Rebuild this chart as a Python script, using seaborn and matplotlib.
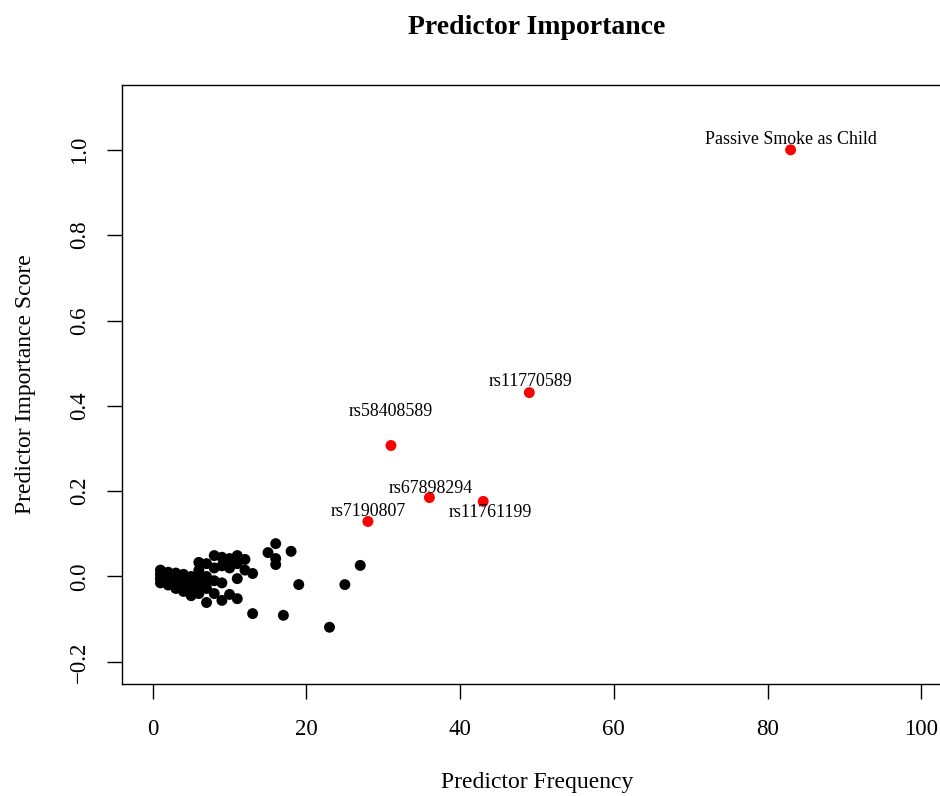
import matplotlib

matplotlib.use("Agg")
import matplotlib.pyplot as plt   # noqa: E402
import numpy as np                 # noqa: E402
import pandas as pd                # noqa: E402
import seaborn as sns              # noqa: E402

# --- data ------------------------------------------------------------------
# background predictors (black)
bg_freq = [1, 1, 1, 1, 2, 2, 2, 2, 3, 3, 3, 3, 4, 4, 4, 4, 5, 5, 5, 5,
           6, 6, 6, 6, 6, 7, 7, 7, 7, 7, 8, 8, 8, 8, 9, 9, 9, 9,
           10, 10, 10, 11, 11, 11, 11, 12, 12, 13, 13,
           15, 16, 16, 16, 17, 18, 19, 23, 25, 27]
bg_score = [0.015, 0.005, -0.005, -0.015, 0.010, 0.000, -0.010, -0.020,
            0.008, -0.005, -0.018, -0.028, 0.005, -0.010, -0.025, -0.035,
            0.000, -0.015, -0.030, -0.045,
            0.033, 0.015, -0.005, -0.025, -0.040,
            0.030, 0.000, -0.015, -0.028, -0.061,
            0.049, 0.020, -0.010, -0.040,
            0.045, 0.025, -0.015, -0.056,
            0.042, 0.020, -0.042,
            0.049, 0.030, -0.005, -0.052,
            0.040, 0.015, 0.007, -0.087,
            0.056, 0.077, 0.042, 0.028, -0.091, 0.059, -0.019, -0.119, -0.019, 0.026]

# highlighted predictors (red)
top_names = ["Passive Smoke as Child", "rs11770589", "rs58408589",
             "rs67898294", "rs11761199", "rs7190807"]
top_freq = [83, 49, 31, 36, 43, 28]
top_score = [1.0, 0.431, 0.307, 0.185, 0.176, 0.129]

y_ticks = [-0.2, 0.0, 0.2, 0.4, 0.6, 0.8, 1.0]
x_ticks = [0, 20, 40, 60, 80, 100]

df = pd.DataFrame({
    "freq": bg_freq + top_freq,
    "score": bg_score + top_score,
    "group": ["other"] * len(bg_freq) + ["top"] * len(top_freq),
})

# label offsets in pixels (dx, dy) relative to each red point
label_offsets = [(0, 10), (1, 11), (0, 34), (1, 9), (7, -11), (0, 10)]

sns.set_style("ticks")
plt.rcParams["font.family"] = ["Liberation Serif", "DejaVu Serif"]
plt.rcParams["text.color"] = "black"
plt.rcParams["axes.labelcolor"] = "black"

fig = plt.figure(figsize=(9.4, 7.96), dpi=100)
ax = fig.add_axes([122 / 940, 112 / 796, 830 / 940, 599 / 796])

sns.scatterplot(data=df, x="freq", y="score", hue="group",
                palette={"other": "black", "top": "#ff0000"},
                s=62, linewidth=0, ax=ax, legend=False, zorder=3)

px = 72 / 100
for name, fx, fy, (dx, dy) in zip(top_names, top_freq, top_score, label_offsets):
    ax.annotate(name, (fx, fy), xytext=(dx * px, dy * px), textcoords="offset points",
                ha="center", va="center", fontsize=12.9, color="black")

ax.set_xlim(-4, 104)
ax.set_ylim(-0.252, 1.152)
ax.set_xticks(x_ticks)
ax.set_yticks(y_ticks)
ax.set_yticklabels([f"{v:.1f}".replace("-", "\u2212") for v in y_ticks],
                   rotation=90, va="center")
ax.tick_params(axis="both", direction="out", length=11, width=1, labelsize=16.5,
               color="black", labelcolor="black")
ax.tick_params(axis="x", pad=14)
ax.tick_params(axis="y", pad=12)
for sp in ax.spines.values():
    sp.set_visible(True)
    sp.set_color("black")
    sp.set_linewidth(1)

ax.set_xlabel("Predictor Frequency", fontsize=17, labelpad=23)
ax.set_ylabel("Predictor Importance Score", fontsize=17, labelpad=24)
fig.text(537 / 940, 1 - 27 / 796, "Predictor Importance", ha="center", va="center",
         fontsize=20, fontweight="bold")

fig.savefig("out.png", dpi=100)
plt.close(fig)
